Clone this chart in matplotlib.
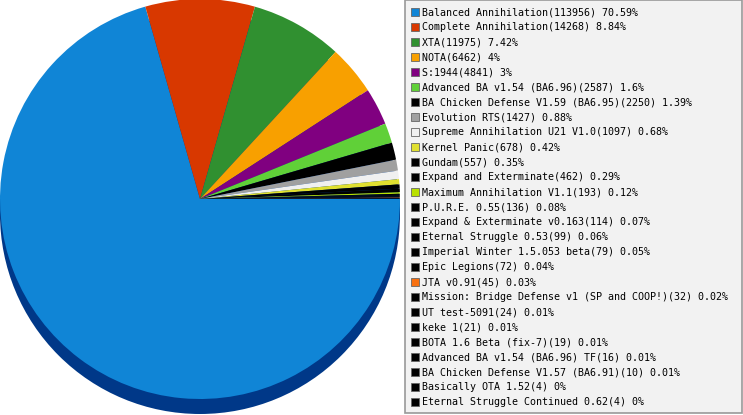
#! /usr/bin/env python

# Pie chart of games played per mod, with a boxed legend on the right.
# The pie gets a fake 3D "depth" by drawing a darker copy of it a bit lower.

import numpy as np
import matplotlib
matplotlib.use('Agg')
import matplotlib.pyplot as plt
from matplotlib.patches import Circle, Rectangle

# ----- Data ------------------------------------------------------------------------------
mods = ['Balanced Annihilation', 'Complete Annihilation', 'XTA', 'NOTA', 'S:1944',
        'Advanced BA v1.54 (BA6.96)', 'BA Chicken Defense V1.59 (BA6.95)', 'Evolution RTS',
        'Supreme Annihilation U21 V1.0', 'Kernel Panic', 'Gundam', 'Expand and Exterminate',
        'Maximum Annihilation V1.1', 'P.U.R.E. 0.55', 'Expand & Exterminate v0.163',
        'Eternal Struggle 0.53', 'Imperial Winter 1.5.053 beta', 'Epic Legions', 'JTA v0.91',
        'Mission: Bridge Defense v1 (SP and COOP!)', 'UT test-5091', 'keke 1',
        'BOTA 1.6 Beta (fix-7)', 'Advanced BA v1.54 (BA6.96) TF',
        'BA Chicken Defense V1.57 (BA6.91)', 'Basically OTA 1.52', 'Eternal Struggle Continued 0.62']
games = [113956, 14268, 11975, 6462, 4841, 2587, 2250, 1427, 1097, 678, 557, 462, 193,
         136, 114, 99, 79, 72, 45, 32, 24, 21, 19, 16, 10, 4, 4]
colors = ['#1085d6', '#d83800', '#309030', '#f8a000', '#800080', '#60d038', '#000000',
          '#a0a0a0', '#f0f0f0', '#e0e030', '#000000', '#000000', '#b8e000', '#000000',
          '#000000', '#000000', '#000000', '#000000', '#f87010', '#000000', '#000000',
          '#000000', '#000000', '#000000', '#000000', '#000000', '#000000']

W, H = 743, 415

fig = plt.figure(figsize=(W / 100., H / 100.), dpi=100)
ax = fig.add_axes([0, 0, 1, 1])

# pie geometry in pixels (y measured upward)
cx, cy, r = 200, 216, 200
depth = 15

# the "side" of the pie
ax.add_patch(Circle((cx, cy - depth), r, facecolor='#003888', edgecolor='none', zorder=1))
ax.add_patch(Rectangle((cx - r, cy - depth), 2 * r, depth, facecolor='#003888',
                       edgecolor='none', zorder=1))

wedges, _ = ax.pie(games, colors=colors, startangle=0, counterclock=False,
                   center=(cx, cy), radius=r, wedgeprops=dict(linewidth=0))
for w in wedges:
    w.set_zorder(2)

# ----- Legend ----------------------------------------------------------------------------
total = float(sum(games))
ax.add_patch(Rectangle((405, 2), 337, 413, facecolor='#f2f2f2', edgecolor='#999999',
                       linewidth=1.2, zorder=3))
for i, (name, n, c) in enumerate(zip(mods, games, colors)):
    y = H - 12.3 - 15 * i
    pct = round(100 * n / total, 2)
    ax.add_patch(Rectangle((411, y - 3.5), 7.5, 7.5, facecolor=c, edgecolor='#666666',
                           linewidth=0.6, zorder=4))
    ax.text(422.5, y, '%s(%d) %s%%' % (name, n, format(pct, 'g')), family='DejaVu Sans Mono',
            fontsize=7.2, color='#000000', va='center', ha='left', zorder=4)

ax.set_xlim(0, W)
ax.set_ylim(0, H)
ax.set_aspect('auto')
ax.axis('off')

savefig = fig.savefig
savefig('out.png', dpi=100)
